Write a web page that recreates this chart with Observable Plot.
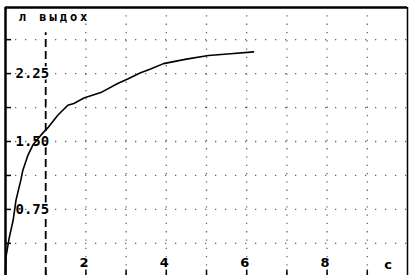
<!DOCTYPE html>
<html>
<head>
<meta charset="utf-8">
<script src="https://cdn.jsdelivr.net/npm/d3@7"></script>
<script src="https://cdn.jsdelivr.net/npm/@observablehq/plot@0.6"></script>
<style>
  html, body { margin: 0; padding: 0; background: #fff; }
  #chart svg { display: block; }
  #chart svg .ytitle text { letter-spacing: 3px; }
</style>
</head>
<body>
<div id="chart"></div>
<script>
// Time (s) and exhaled volume (l)
const timeS = [0, 0.01, 0.09, 0.19, 0.26, 0.33, 0.38, 0.43, 0.56, 0.68, 0.88, 1.05, 1.30, 1.55, 1.70, 1.95, 2.37, 2.79, 3.04, 3.36, 3.61, 3.93, 4.50, 5.05, 5.60, 6.17];
const volumeL = [0, 0.22, 0.43, 0.63, 0.85, 0.98, 1.07, 1.18, 1.35, 1.46, 1.57, 1.65, 1.79, 1.90, 1.92, 1.98, 2.04, 2.14, 2.19, 2.26, 2.30, 2.36, 2.41, 2.45, 2.47, 2.49];
const yGrid = [0.375, 0.75, 1.125, 1.5, 1.875, 2.25, 2.625];
const yLabels = [0.75, 1.5, 2.25];
const xGrid = [2, 3, 4, 5, 6, 7, 8, 9];
const xTicks = [1, 2, 3, 4, 5, 6, 7, 8, 9];
const xLabels = [2, 4, 6, 8];
const markerTime = 1;
const yTitle = "л выдох";
const xUnit = "с";

const data = timeS.map((t, i) => ({t, v: volumeL[i]}));
const mono = "'DejaVu Sans Mono', monospace";

const chart = Plot.plot({
  width: 410,
  height: 275,
  marginLeft: 5,
  marginRight: 3,
  marginTop: 7,
  marginBottom: 0,
  x: {domain: [0, 10], axis: null},
  y: {domain: [0.02, 2.98], axis: null},
  style: {background: "#fff"},
  marks: [
    Plot.ruleY(yGrid, {stroke: "#000", strokeWidth: 1.3, strokeDasharray: "1.3,8.7", strokeOpacity: 0.6}),
    Plot.ruleX(xGrid, {stroke: "#000", strokeWidth: 1.3, strokeDasharray: "1.3,7", strokeOpacity: 0.6}),
    Plot.ruleX([markerTime], {y1: 0.02, y2: 2.7, stroke: "#000", strokeWidth: 1.8, strokeDasharray: "8,4"}),
    Plot.ruleY(yGrid, {x1: 0, x2: 0.15, stroke: "#000", strokeWidth: 1.5}),
    Plot.ruleX(xTicks, {y1: 0.02, y2: 0.08, stroke: "#000", strokeWidth: 1.5}),
    Plot.ruleX([0], {stroke: "#000", strokeWidth: 2.5}),
    Plot.ruleX([10], {stroke: "#000", strokeWidth: 1.5}),
    Plot.ruleY([2.98], {stroke: "#000", strokeWidth: 2.5}),
    Plot.text(yLabels, {x: 0, y: d => d, text: d => d.toFixed(2), textAnchor: "start", dx: 10, fontFamily: mono, fontWeight: "bold", fontSize: 14, fill: "#000", stroke: "#fff", strokeWidth: 3}),
    Plot.text(xLabels, {x: d => d, y: 0.165, text: d => String(d), dx: -2, fontFamily: "'DejaVu Sans', sans-serif", fontWeight: "bold", fontSize: 13, fill: "#000"}),
    Plot.text([xUnit], {x: 9.52, y: 0.14, text: d => d, fontFamily: "'DejaVu Sans', sans-serif", fontWeight: "bold", fontSize: 13, fill: "#000"}),
    Plot.text([yTitle], {x: 0.33, y: 2.87, text: d => d, textAnchor: "start", fontFamily: mono, fontWeight: "bold", fontSize: 12, fill: "#000", className: "ytitle"}),
    Plot.line(data, {x: "t", y: "v", stroke: "#000", strokeWidth: 1.6})
  ]
});
document.getElementById("chart").appendChild(chart);
</script>
</body>
</html>
